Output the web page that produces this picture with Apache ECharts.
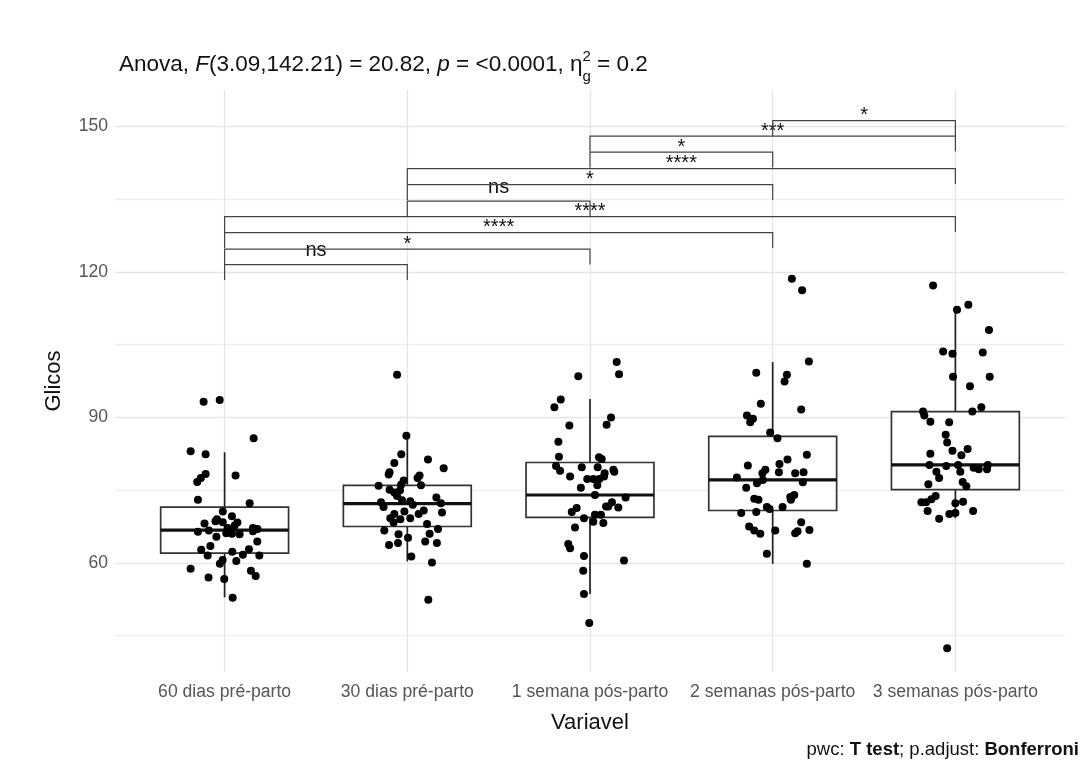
<!DOCTYPE html>
<html>
<head>
  <meta charset="utf-8">
  <title>Glicos por período</title>
  <script src="https://cdn.jsdelivr.net/npm/echarts@6/dist/echarts.min.js"></script>
  <style>
    html, body { margin: 0; padding: 0; background: #fff; }
    #main { width: 1091px; height: 761px; }
  </style>
</head>
<body>
<div id="main"></div>
<script>
// categorias do eixo x
const categorias = ['60 dias pré-parto', '30 dias pré-parto', '1 semana pós-parto', '2 semanas pós-parto', '3 semanas pós-parto'];

// pontos (posição x com jitter, valor de Glicos)
const g1x = [0.885,0.973,1.159,0.814,0.896,1.06,0.896,0.87,0.85,0.854,1.137,0.99,1.04,0.958,0.99,0.89,1.07,1.055,1.016,1.155,1.18,0.854,0.914,1.009,1.04,1.082,0.955,1.155,1.179,0.922,0.872,0.907,1.042,1.133,1.1,1.19,0.989,0.974,1.064,0.814,1.144,1.17,0.912,0.998,1.044,1.03,0.95];
const g1y = [93.2,93.6,85.7,83.0,82.4,78.0,78.3,77.5,76.7,73.0,72.3,70.6,69.6,69.0,68.4,68.1,68.3,67.7,67.2,67.2,67.0,66.4,66.7,66.1,66.0,65.9,65.4,66.5,64.4,63.5,62.7,61.5,62.3,62.8,61.7,61.5,60.6,59.8,60.4,58.8,58.4,57.3,57.0,56.7,52.8,66.8,68.6];
const g2x = [1.944,1.995,1.967,2.113,1.929,2.199,1.903,1.898,2.067,2.056,1.98,1.966,1.843,2.075,1.903,1.929,1.944,2.159,1.971,2.016,1.856,2.184,1.87,1.984,2.19,1.929,2.062,1.907,1.962,2.016,1.925,2.108,2.168,1.874,2.122,1.952,2.004,1.9,1.949,2.098,2.162,2.022,2.135,2.115,2.03,1.96,2.09];
const g2y = [98.8,86.2,82.4,81.3,80.6,79.5,78.7,78.2,78.0,77.5,77.0,76.1,75.9,76.0,75.1,74.5,73.8,73.5,72.9,72.7,72.5,72.3,71.5,70.6,70.4,70.1,70.1,69.2,69.0,69.2,68.3,68.0,67.0,66.7,66.0,65.9,65.2,63.7,64.1,64.4,64.1,61.3,60.1,52.4,72.0,75.0,70.8];
const g3x = [3.146,3.159,2.936,2.84,2.805,3.115,3.091,2.887,2.827,2.83,3.049,3.064,2.814,2.955,3.042,2.836,3.128,3.133,2.891,3.077,2.985,3.018,3.051,3.027,3.195,2.927,3.088,3.1,3.155,2.967,3.027,3.06,3.018,3.073,2.918,2.881,2.891,2.967,3.186,2.963,2.967,2.996,2.95,3.08,3.12,2.9,3.04];
const g3y = [101.4,98.9,98.5,93.7,92.1,90.0,88.5,88.3,85.0,81.9,81.8,81.4,80.0,79.7,79.7,79.0,79.2,78.8,77.8,77.8,77.3,77.3,77.3,74.0,73.5,71.3,71.6,71.6,71.4,69.2,69.9,69.9,68.5,68.2,67.3,63.9,63.0,61.4,60.5,58.4,53.6,47.6,75.5,78.5,72.5,70.5,76.0];
const g4x = [4.105,4.161,4.198,3.91,4.078,4.065,3.935,4.156,3.859,3.892,3.877,3.986,4.026,4.187,4.081,3.864,4.037,4.034,3.944,4.123,4.169,3.804,3.946,3.914,4.165,3.855,4.118,4.096,3.899,3.922,3.968,4.054,3.983,3.828,3.91,4.156,3.871,3.899,3.932,4.014,4.123,4.136,4.201,3.968,4.187,3.96,4.1];
const g4y = [118.6,116.2,101.5,99.2,98.8,97.4,92.8,91.6,90.4,89.7,89.0,86.9,85.7,82.3,81.3,80.1,80.4,78.7,78.5,78.5,78.7,77.6,77.1,76.4,76.6,75.5,74.0,73.6,73.2,73.0,71.5,71.5,71.1,70.3,70.5,68.4,67.5,66.7,66.0,66.7,66.1,66.5,66.8,61.9,59.8,79.2,73.0];
const g5x = [4.878,5.009,5.071,5.184,4.933,4.984,5.15,4.987,5.188,5.08,5.142,5.093,4.823,4.83,4.863,4.966,4.947,4.955,4.984,5.067,5.033,4.863,4.858,5.015,5.128,5.177,5.173,4.896,5.027,4.911,5.04,4.852,4.892,4.869,4.814,4.84,5.0,5.042,4.848,5.097,4.967,5.0,4.911,4.955,4.95,5.06,5.1];
const g5y = [117.2,112.2,113.2,108.0,103.6,103.1,103.4,98.4,98.4,96.4,92.1,91.2,91.2,90.4,89.1,89.0,86.4,84.8,83.1,83.5,82.2,82.5,80.2,80.2,79.3,80.2,79.3,78.8,78.8,77.5,76.7,76.2,73.8,73.1,72.5,72.5,72.3,72.6,70.7,70.7,70.1,70.3,69.1,42.4,80.0,75.8,79.6];

// estatísticas dos boxplots
const bigodeInf = [52.9, 60.3, 53.6, 59.8, 69.2];
const q1 = [62.0, 67.5, 69.4, 70.8, 75.1];
const mediana = [66.75, 72.2, 74.0, 77.1, 80.2];
const q3 = [71.5, 76.0, 80.7, 86.1, 91.2];
const bigodeSup = [82.8, 86.2, 93.8, 101.4, 112.2];

// comparações pareadas (colchetes)
const compDe = [1, 1, 1, 1, 2, 2, 2, 3, 3, 4];
const compAte = [2, 3, 4, 5, 3, 4, 5, 4, 5, 5];
const compY = [121.5, 124.7, 128.1, 131.4, 134.6, 138.0, 141.3, 144.7, 148.0, 151.2];
const compLabel = ['ns', '*', '****', '****', 'ns', '*', '****', '*', '***', '*'];

const FONT = '"Liberation Sans", Arial, sans-serif';
const BOX_HALF = 0.35;
const TIP = 3.2;

const chart = echarts.init(document.getElementById('main'));

const pontos = [];
[[g1x, g1y], [g2x, g2y], [g3x, g3y], [g4x, g4y], [g5x, g5y]].forEach(function (g) {
  g[0].forEach(function (x, i) { pontos.push([x, g[1][i]]); });
});

const caixas = categorias.map(function (c, i) {
  return [i + 1, bigodeInf[i], q1[i], mediana[i], q3[i], bigodeSup[i]];
});

const colchetes = compDe.map(function (a, i) { return [a, compAte[i], compY[i]]; });

const T = 'rgba(0,0,0,0)';

const option = {
  animation: false,
  backgroundColor: '#fff',
  textStyle: { fontFamily: FONT },
  title: [{
    text: 'Anova, {it|F}(3.09,142.21) = 20.82, {it|p} = <0.0001, η{sup|2}{sub|g} = 0.2',
    left: 114,
    top: 45,
    textStyle: {
      fontFamily: FONT, fontSize: 22.5, fontWeight: 'normal', color: '#111', lineHeight: 30,
      rich: {
        it: { fontFamily: FONT, fontSize: 22.5, fontStyle: 'italic', color: '#111' },
        sup: { fontFamily: FONT, fontSize: 15, color: '#111', width: 0, padding: [0, 0, 16, 0] },
        sub: { fontFamily: FONT, fontSize: 15, color: '#111', padding: [24, 0, 0, 0] }
      }
    }
  }, {
    text: 'pwc: {b|T test}; p.adjust: {b|Bonferroni}',
    right: 7,
    top: 735,
    textStyle: {
      fontFamily: FONT, fontSize: 18.5, fontWeight: 'normal', color: '#111',
      rich: { b: { fontFamily: FONT, fontSize: 18.5, fontWeight: 'bold', color: '#111' } }
    }
  }],
  grid: { left: 115, right: 26, top: 90, bottom: 89, containLabel: false, outerBoundsMode: 'none' },
  xAxis: {
    type: 'value',
    min: 0.4,
    max: 5.6,
    interval: 0.2,
    name: 'Variavel',
    nameLocation: 'middle',
    nameGap: 40,
    nameTextStyle: { fontFamily: FONT, fontSize: 22, color: '#111' },
    axisLine: { show: false },
    axisTick: { show: false },
    axisLabel: {
      fontFamily: FONT, fontSize: 17.6, color: '#555', margin: 11,
      formatter: function (v) {
        const r = Math.round(v);
        return Math.abs(v - r) < 1e-6 && r >= 1 && r <= 5 ? categorias[r - 1] : '';
      }
    },
    splitLine: { show: true, lineStyle: { color: [T, T, T, '#e6e6e6', T], width: 1.3 } }
  },
  yAxis: {
    type: 'value',
    min: 37.5,
    max: 157.5,
    interval: 7.5,
    name: 'Glicos',
    nameLocation: 'middle',
    nameGap: 50,
    nameRotate: 90,
    nameTextStyle: { fontFamily: FONT, fontSize: 22, color: '#111' },
    axisLine: { show: false },
    axisTick: { show: false },
    axisLabel: {
      fontFamily: FONT, fontSize: 17.6, color: '#555', margin: 7,
      formatter: function (v) { return Math.abs(v % 30) < 1e-6 ? String(v) : ''; }
    },
    splitLine: { show: true, lineStyle: { color: [T, '#efefef', T, '#e6e6e6'], width: 1.3 } }
  },
  series: [{
    type: 'custom',
    name: 'boxplot',
    z: 2,
    data: caixas,
    renderItem: function (params, api) {
      const x = api.value(0);
      const lo = api.coord([x, api.value(1)]);
      const b1 = api.coord([x, api.value(2)]);
      const md = api.coord([x, api.value(3)]);
      const b3 = api.coord([x, api.value(4)]);
      const hi = api.coord([x, api.value(5)]);
      const half = api.size([BOX_HALF, 0])[0];
      const st = { stroke: '#222', lineWidth: 1.7 };
      return {
        type: 'group',
        children: [
          { type: 'line', shape: { x1: hi[0], y1: hi[1], x2: b3[0], y2: b3[1] }, style: st },
          { type: 'line', shape: { x1: lo[0], y1: lo[1], x2: b1[0], y2: b1[1] }, style: st },
          { type: 'rect', shape: { x: b3[0] - half, y: b3[1], width: 2 * half, height: b1[1] - b3[1] },
            style: { fill: '#fff', stroke: '#333', lineWidth: 1.7 } },
          { type: 'line', shape: { x1: md[0] - half, y1: md[1], x2: md[0] + half, y2: md[1] },
            style: { stroke: '#111', lineWidth: 3.2 } }
        ]
      };
    }
  }, {
    type: 'scatter',
    name: 'pontos',
    z: 3,
    symbolSize: 8,
    itemStyle: { color: '#000', opacity: 1 },
    data: pontos
  }, {
    type: 'custom',
    name: 'comparacoes',
    z: 4,
    data: colchetes,
    renderItem: function (params, api) {
      const a = api.coord([api.value(0), api.value(2)]);
      const b = api.coord([api.value(1), api.value(2)]);
      const tip = api.size([0, TIP])[1];
      const lab = compLabel[params.dataIndex];
      return {
        type: 'group',
        children: [
          { type: 'polyline',
            shape: { points: [[a[0], a[1] + tip], [a[0], a[1]], [b[0], b[1]], [b[0], b[1] + tip]] },
            style: { stroke: '#444', lineWidth: 1.2, fill: 'none' } },
          { type: 'text', x: (a[0] + b[0]) / 2, y: a[1] - (lab === 'ns' ? 14 : 5),
            style: { text: lab, fontFamily: FONT, fontSize: 20, fill: '#111', align: 'center', verticalAlign: 'middle' } }
        ]
      };
    }
  }]
};

chart.setOption(option);
</script>
</body>
</html>
